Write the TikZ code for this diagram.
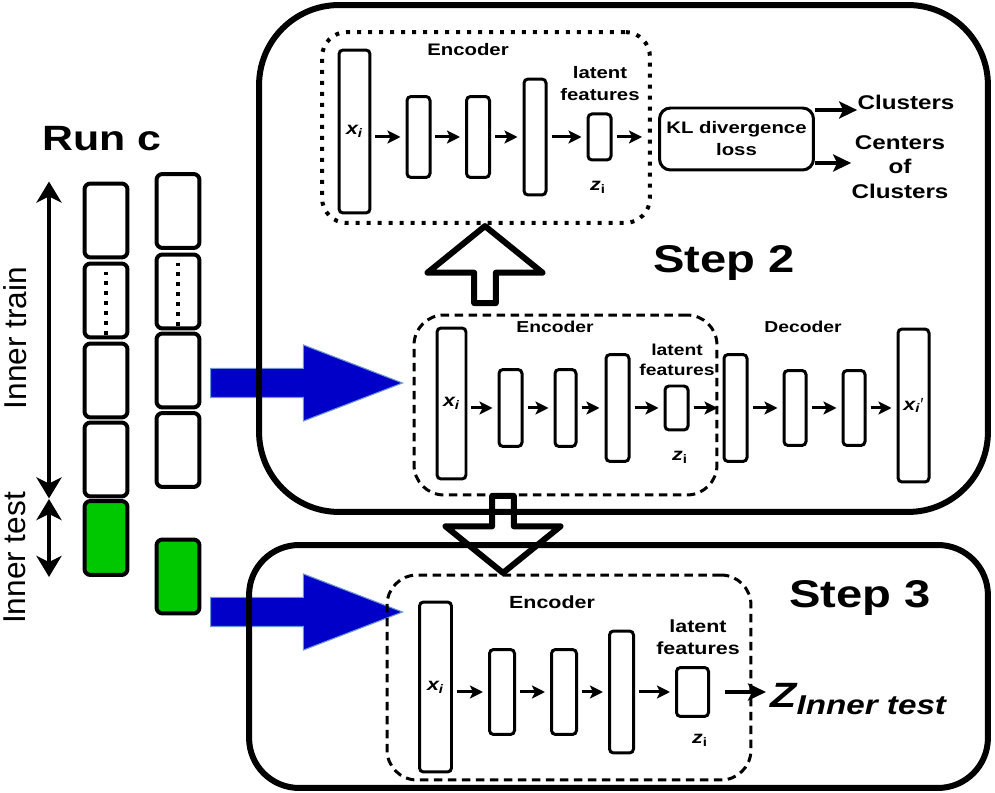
\documentclass[tikz,border=0pt]{standalone}
\usepackage{fontspec}
\setmainfont{Liberation Sans}
\newfontfamily\widesf[FakeStretch=1.22]{Liberation Sans}
\usetikzlibrary{arrows.meta,positioning,shapes.arrows}

\definecolor{cellgreen}{RGB}{0,200,0}
\definecolor{feedblue}{RGB}{0,0,200}
\definecolor{feededge}{RGB}{110,150,210}

\begin{document}
\begin{tikzpicture}[x=0.02cm, y=-0.02cm,
    layer/.style={draw, line width=0.06cm, rounded corners=0.08cm, inner sep=0pt},
    cell/.style={draw, line width=0.08cm, rounded corners=0.12cm, minimum width=0.86cm, minimum height=1.48cm, inner sep=0pt},
    dotbox/.style={draw, line width=0.08cm, dash pattern=on 0.08cm off 0.14cm, rounded corners=0.5cm, inner sep=0pt},
    dashbox/.style={draw, line width=0.06cm, dash pattern=on 0.17cm off 0.11cm, rounded corners=0.6cm, inner sep=0pt},
    stepbox/.style={draw, line width=0.12cm, inner sep=0pt},
    feed/.style={single arrow, fill=feedblue, draw=feededge, line width=0.6pt, minimum height=3.84cm, minimum width=1.5cm, single arrow head extend=0.47cm, single arrow tip angle=42, inner xsep=0pt, inner ysep=0.28cm, anchor=tail},
    hollow/.style={single arrow, draw, line width=0.12cm, line join=round, minimum height=1.54cm, minimum width=2.3cm, single arrow head extend=0.86cm, single arrow tip angle=102, inner xsep=0pt, inner ysep=0.14cm},
    flow/.style={-{Stealth[length=0.26cm, width=0.26cm, inset=0.06cm]}, line width=0.06cm, shorten <=0.08cm, shorten >=0.1cm},
    bigflow/.style={-{Stealth[length=0.36cm, width=0.34cm, inset=0.08cm]}, line width=0.07cm},
    span/.style={{Stealth[length=0.42cm, width=0.5cm, inset=0.12cm]}-{Stealth[length=0.42cm, width=0.5cm, inset=0.12cm]}, line width=0.08cm},
    lab/.style={font=\widesf\bfseries\fontsize{9.5}{12.5}\selectfont, align=center, inner sep=0pt},
    side/.style={font=\widesf\bfseries\fontsize{11.3}{14}\selectfont, align=center, inner sep=0pt},
    title/.style={font=\widesf\bfseries\fontsize{22}{26}\selectfont, inner sep=0pt, anchor=base},
    var/.style={font=\widesf\bfseries\itshape\fontsize{10}{12}\selectfont, inner sep=0pt}
  ]
    \useasboundingbox (0,0) rectangle (995,793);

    % data going in
    \node[feed] (feedB) at (210,383) {};
    \node[feed] (feedC) at (210,612) {};

    % Run c
    \node[title, font=\widesf\bfseries\fontsize{20}{24}\selectfont] (runlbl) at (102,151) {Run c};

    \node[cell] (c1a) at (106,220.5) {};
    \node[cell] (c1b) at (106,300.5) {};
    \node[cell] (c1c) at (106,380.5) {};
    \node[cell] (c1d) at (106,459.5) {};
    \node[cell, fill=cellgreen] (c1t) at (106,538) {};

    \node[cell] (c2a) at (178,211) {};
    \node[cell] (c2b) at (178,291.5) {};
    \node[cell] (c2c) at (178,370.5) {};
    \node[cell] (c2d) at (178,450) {};
    \node[cell, fill=cellgreen] (c2t) at (178,576.5) {};

    \draw[line width=0.08cm, dash pattern=on 0.07cm off 0.13cm] ([yshift=-0.2cm]c1b.north) -- ([yshift=0.08cm]c1b.south);
    \draw[line width=0.08cm, dash pattern=on 0.07cm off 0.13cm] ([yshift=-0.2cm]c2b.north) -- ([yshift=0.08cm]c2b.south);

    \coordinate (spanx) at (49,0);
    \draw[span] (spanx |- c1a.north) -- (spanx |- c1d.south);
    \draw[span] (spanx |- c1t.north) -- (spanx |- c1t.south);
    \node[rotate=90, font=\fontsize{18}{20}\selectfont, inner sep=0pt] (trainlbl) at (15,338) {Inner train};
    \node[rotate=90, font=\fontsize{18}{20}\selectfont, inner sep=0pt] (testlbl) at (15,558) {Inner test};

    % Step 2
    \node[stepbox, rounded corners=1.6cm, minimum width=14.58cm, minimum height=10.14cm] (step2) at (623.5,258.5) {};
    \node[title] (step2lbl) at (724,273) {Step 2};

    \node[dotbox, minimum width=6.56cm, minimum height=3.82cm] (encA) at (486,127.5) {};
    \node[lab] (encAlbl) at (468,50) {Encoder};
    \node[layer, var, minimum width=0.62cm, minimum height=3.26cm] (tx0) at (354.5,131.5) {x\textsubscript{i}};
    \node[layer, minimum width=0.46cm, minimum height=1.62cm] (tb1) at (418.5,137) {};
    \node[layer, minimum width=0.46cm, minimum height=1.62cm] (tb2) at (478,137) {};
    \node[layer, minimum width=0.44cm, minimum height=2.32cm] (tb3) at (535,137) {};
    \node[layer, minimum width=0.46cm, minimum height=0.92cm] (tz) at (599.5,137) {};
    \node[lab] (latAlbl) at (600,84) {latent\\features};
    \node[var] (zAlbl) at (598,187) {z\textsubscript{\upshape i}};
    \node[layer, lab, rounded corners=0.22cm, minimum width=3.08cm, minimum height=1.24cm] (kl) at (736.5,139) {KL divergence\\loss};
    \node[side] (clus) at (906,102) {Clusters};
    \node[side] (ctrs) at (900,167) {Centers\\of\\Clusters};

    \draw[flow] (tx0.east |- tb1) -- (tb1);
    \draw[flow] (tb1) -- (tb2);
    \draw[flow] (tb2) -- (tb3);
    \draw[flow] (tb3) -- (tz);
    \draw[flow, shorten >=0.32cm] (tz) -- (kl.west |- tz);
    \draw[bigflow] ([yshift=0.58cm]kl.east) -- ([yshift=0.58cm]kl.east -| clus.west) ;
    \draw[bigflow] ([yshift=-0.48cm]kl.east) -- ([yshift=-0.48cm]kl.east -| ctrs.west);

    % autoencoder
    \node[dashbox, minimum width=6.06cm, minimum height=3.6cm] (encB) at (565.5,405) {};
    \node[lab, font=\widesf\bfseries\fontsize{9}{12}\selectfont] (encBlbl) at (555,327) {Encoder};
    \node[lab, font=\widesf\bfseries\fontsize{9}{12}\selectfont] (decBlbl) at (803,327) {Decoder};
    \node[layer, var, minimum width=0.58cm, minimum height=3.02cm] (mx0) at (451.5,403.5) {x\textsubscript{i}};
    \node[layer, minimum width=0.46cm, minimum height=1.54cm] (mb1) at (510.5,408) {};
    \node[layer, minimum width=0.42cm, minimum height=1.54cm] (mb2) at (565.5,408) {};
    \node[layer, minimum width=0.46cm, minimum height=2.14cm] (mb3) at (617.5,408) {};
    \node[layer, minimum width=0.46cm, minimum height=0.88cm] (mz) at (676.5,408) {};
    \node[layer, minimum width=0.46cm, minimum height=2.14cm] (md1) at (735.5,408) {};
    \node[layer, minimum width=0.44cm, minimum height=1.5cm] (md2) at (795,408) {};
    \node[layer, minimum width=0.44cm, minimum height=1.5cm] (md3) at (854,408) {};
    \node[layer, var, minimum width=0.62cm, minimum height=3.06cm] (mout) at (913.5,405.5) {x\textsubscript{i}{\upshape\normalfont ′}};
    \node[lab, font=\widesf\bfseries\fontsize{9}{11.5}\selectfont] (latBlbl) at (677,360) {latent\\features};
    \node[var] (zBlbl) at (680,457) {z\textsubscript{\upshape i}};

    \draw[flow] (mx0.east |- mb1) -- (mb1);
    \draw[flow] (mb1) -- (mb2);
    \draw[flow] (mb2) -- (mb3);
    \draw[flow] (mb3) -- (mz);
    \draw[flow] (mz) -- (md1);
    \draw[flow] (md1) -- (md2);
    \draw[flow] (md2) -- (md3);
    \draw[flow] (md3) -- (mout.west |- md3);

    \node[hollow, rotate=90] (upA) at (485,269) {};

    % Step 3
    \node[stepbox, rounded corners=1.0cm, minimum width=14.78cm, minimum height=4.86cm] (step3) at (618.5,666.5) {};
    \node[title] (step3lbl) at (860,608) {Step 3};
    \node[hollow, rotate=-90] (downC) at (503,530) {};

    \node[dashbox, minimum width=7.28cm, minimum height=4.1cm] (encC) at (569,677.5) {};
    \node[lab, font=\widesf\bfseries\fontsize{10}{12}\selectfont] (encClbl) at (552,602) {Encoder};
    \node[layer, var, minimum width=0.64cm, minimum height=3.4cm] (bx0) at (435.5,687) {x\textsubscript{i}};
    \node[layer, minimum width=0.5cm, minimum height=1.7cm] (bb1) at (502,692) {};
    \node[layer, minimum width=0.5cm, minimum height=1.7cm] (bb2) at (564,692) {};
    \node[layer, minimum width=0.48cm, minimum height=2.44cm] (bb3) at (621.5,692) {};
    \node[layer, minimum width=0.64cm, minimum height=0.98cm] (bz) at (692.5,692) {};
    \node[lab, font=\widesf\bfseries\fontsize{10}{12.5}\selectfont] (latClbl) at (698,637) {latent\\features};
    \node[var] (zClbl) at (700,740) {z\textsubscript{\upshape i}};
    \node[anchor=base west, inner sep=0pt, font=\widesf\bfseries\itshape] (zout) at (770,708) {{\fontsize{20}{22}\selectfont Z}{\fontsize{15.5}{18}\selectfont\raisebox{-3.5pt}{Inner test}}};

    \draw[flow] (bx0.east |- bb1) -- (bb1);
    \draw[flow] (bb1) -- (bb2);
    \draw[flow] (bb2) -- (bb3);
    \draw[flow] (bb3) -- (bz);
    \draw[bigflow, shorten <=0.3cm, shorten >=0.08cm] (bz.east) -- (bz.east -| zout.west);
\end{tikzpicture}
\end{document}
